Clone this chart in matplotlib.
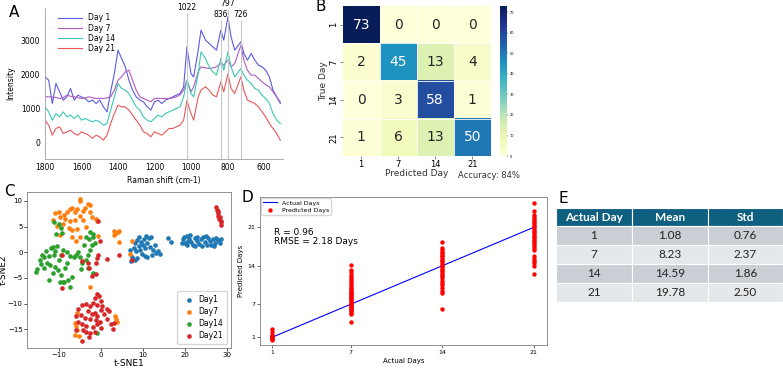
import matplotlib
matplotlib.use('Agg')
import matplotlib.pyplot as plt
import numpy as np

# ---- panel A: Raman spectra ----
shift = [1800, 1780, 1760, 1740, 1720, 1700, 1680, 1660, 1640, 1620, 1600, 1580, 1560, 1540,
         1520, 1500, 1480, 1460, 1440, 1420, 1400, 1380, 1360, 1340, 1320, 1300, 1280, 1260,
         1240, 1220, 1200, 1180, 1160, 1140, 1120, 1100, 1080, 1060, 1040, 1022, 1000, 985,
         960, 945, 920, 900, 880, 860, 836, 820, 797, 780, 760, 726, 710, 690, 670, 650, 630,
         610, 590, 570, 550, 530, 510]
day1 = [1935, 1836, 1145, 1737, 1490, 1244, 1342, 1590, 1244, 1392, 1340, 1293, 1194, 1244,
        1145, 1244, 1046, 898, 1500, 2033, 2725, 2478, 2231, 1836, 1540, 1342, 1250, 1190,
        1046, 948, 1194, 1244, 1145, 1244, 1293, 1342, 1392, 1440, 1639, 2823, 2033, 1935,
        2725, 3317, 3020, 2922, 2823, 2725, 3317, 3020, 3712, 3120, 2725, 2971, 2626, 2428,
        2626, 2430, 2280, 2231, 2132, 1935, 1540, 1342, 1145]
day7 = [1342, 1342, 1342, 1320, 1293, 1320, 1392, 1360, 1342, 1320, 1293, 1310, 1342, 1320,
        1293, 1300, 1293, 1310, 1342, 1540, 1836, 1935, 2083, 2132, 1836, 1540, 1342, 1293,
        1244, 1194, 1293, 1300, 1293, 1290, 1293, 1310, 1342, 1400, 1540, 1836, 1490, 1639,
        2083, 2231, 2200, 2182, 2200, 2231, 2330, 2280, 2428, 2231, 2330, 2873, 2428, 2132,
        1984, 1984, 1885, 1787, 1700, 1639, 1490, 1342, 1194]
day14 = [1046, 898, 651, 849, 750, 898, 750, 800, 700, 800, 651, 700, 651, 602,
         651, 602, 503, 553, 948, 1342, 1737, 1589, 1540, 1441, 1244, 1046, 948, 750,
         651, 602, 700, 800, 750, 849, 898, 948, 998, 1046, 1342, 1836, 1441, 1342,
         2033, 2675, 2478, 2231, 2083, 1984, 2478, 2132, 2675, 2231, 1935, 2182, 1984, 1836,
         1737, 1589, 1540, 1392, 1293, 1145, 849, 651, 553]
day21 = [651, 503, 207, 405, 454, 257, 306, 355, 257, 207, 306, 257, 207, 109,
         207, 158, 59, 207, 553, 849, 1096, 1046, 1046, 948, 800, 651, 503, 306,
         257, 158, 306, 257, 207, 306, 405, 405, 454, 503, 651, 1244, 849, 651,
         1342, 1540, 1639, 1540, 1392, 1342, 1787, 1490, 2033, 1589, 1441, 1935, 1540, 1244,
         1194, 1145, 1046, 898, 750, 553, 405, 257, 59]
peaks = [1022, 836, 797, 726]
peak_top = [3820, 3610, 3940, 3610]

# ---- panel B: confusion matrix ----
days = ['1', '7', '14', '21']
conf = [[73, 0, 0, 0],
        [2, 45, 13, 4],
        [0, 3, 58, 1],
        [1, 6, 13, 50]]

# ---- panel C: t-SNE embedding ----
tsne_day1 = [(7.2, -1.8), (7.5, -1.0), (8.0, -1.5), (8.5, -1.2), (7.0, 0.5), (7.8, 0.8), (8.3, 0.3),
             (9.0, 1.2), (9.5, 2.0), (9.2, 0.5), (10.0, 1.5), (10.5, 0.8), (10.2, 2.5), (11.0, 1.8),
             (11.5, 2.8), (12.0, 3.0), (11.8, 1.0), (12.5, 0.5), (12.2, -0.5), (13.0, -0.2),
             (13.5, 0.2), (14.0, -0.3), (10.5, -0.8), (9.8, -0.3), (8.7, 2.3), (9.0, 3.0),
             (11.0, -1.0), (12.8, 1.5), (10.8, 3.2), (8.2, 1.8), (16.0, 2.8), (16.8, 2.0),
             (19.5, 2.5), (19.8, 3.0), (20.0, 1.8), (20.5, 3.2), (20.5, 1.5), (21.0, 2.6),
             (21.5, 2.0), (21.2, 3.3), (22.0, 1.5), (22.3, 2.8), (22.8, 2.2), (23.0, 3.0),
             (23.3, 1.6), (23.8, 2.5), (24.0, 1.2), (24.3, 2.9), (24.8, 2.0), (25.2, 1.5),
             (25.5, 2.8), (26.0, 2.2), (26.3, 1.5), (26.8, 2.6), (27.2, 1.9), (27.5, 2.8),
             (28.0, 2.3), (28.3, 1.8), (28.5, 2.6), (19.3, 1.8), (22.5, 1.2), (25.0, 3.1),
             (27.0, 1.2), (20.8, 2.2)]
tsne_day7 = [(-10.1, 7.8), (-8.9, 7.3), (-8.1, 7.9), (-7.5, 8.4), (-6.9, 8.7), (-6.3, 7.9), (-5.7, 8.4),
             (-5.1, 10.4), (-4.9, 9.9), (-4.3, 8.1), (-3.7, 8.6), (-3.2, 9.4), (-2.7, 7.8), (-2.1, 6.9),
             (-1.3, 6.5), (-1.0, 6.0), (-9.7, 6.8), (-8.5, 6.5), (-7.3, 6.0), (-6.3, 6.3), (-5.6, 4.5),
             (-4.9, 2.9), (-7.7, 4.8), (-6.9, 4.4), (-9.7, 3.4), (-0.6, 3.2), (-2.7, 9.2),
             (-11.0, 7.6), (-11.5, 6.2), (-10.5, 5.2), (-9.0, 5.5), (-3.5, 5.0), (-4.2, 6.2),
             (-5.0, 7.0), (-7.0, 3.0), (-6.0, 2.2), (3.0, 4.2), (3.5, 3.7), (4.0, 4.0), (4.3, 4.2),
             (3.2, 3.4), (4.2, 2.0), (7.0, -0.3), (7.5, 2.2), (-2.7, -6.7), (-5.7, -11.9),
             (-6.3, -13.8), (-5.9, -14.3), (-5.6, -15.1), (-6.1, -16.1), (-5.2, -16.4),
             (3.4, -12.5), (3.8, -13.5), (3.6, -13.0)]
tsne_day14 = [(-11.3, 5.8), (-10.0, 5.5), (-9.6, 4.7), (-10.8, 3.5), (-9.2, 3.8), (-15.3, -3.3),
              (-15.5, -3.8), (-14.5, -1.5), (-14.0, -0.5), (-13.5, -1.0), (-13.0, 0.2), (-12.5, -0.8),
              (-12.0, 0.8), (-11.5, 1.0), (-11.0, 0.3), (-10.5, 1.2), (-11.2, -0.5), (-12.8, -2.0),
              (-12.2, -2.5), (-11.0, -2.8), (-10.0, -1.5), (-9.5, -0.5), (-9.0, 0.5), (-10.2, -3.5),
              (-11.5, -4.0), (-9.5, -4.5), (-8.5, -3.0), (-8.0, -2.0), (-7.5, -0.8), (-7.0, -4.8),
              (-7.8, -5.5), (-8.8, -5.8), (-9.8, -5.8), (-12.5, -5.5), (-9.0, -5.7), (-7.5, -6.8),
              (-6.5, -1.0), (-6.0, -0.5), (-5.5, 0.0), (-5.0, -1.0), (-4.5, -2.0), (-4.8, -3.2),
              (-3.5, -1.5), (-3.0, -0.5), (-2.5, 0.5), (-4.0, 1.5), (-3.5, 3.0), (-2.8, 2.5),
              (-2.2, 1.5), (-1.8, 3.5), (-1.5, 1.8), (-3.0, -3.0), (-2.0, -4.0), (-8.2, 0.0),
              (-13.5, -3.0), (-14.2, -2.2), (-1.0, -15.8), (-2.5, 4.0), (-2.0, 3.0)]
tsne_day21 = [(27.5, 8.8), (27.7, 8.3), (27.8, 7.6), (28.0, 7.0), (28.2, 6.4), (28.5, 5.8), (28.6, 5.3),
              (27.9, 8.0), (28.3, 6.8), (28.7, 6.0), (-1.0, -8.2), (-0.5, -8.6), (-1.5, -9.0),
              (0.0, -9.5), (-2.0, -9.8), (-1.0, -10.3), (0.2, -10.5), (-2.5, -10.5), (-3.5, -10.0),
              (-4.5, -10.2), (-3.0, -11.5), (-1.5, -11.8), (0.0, -11.3), (0.8, -12.0), (1.5, -11.0),
              (2.0, -11.5), (-5.5, -11.0), (-6.0, -12.5), (-4.8, -12.3), (-3.8, -12.8), (-2.5, -13.0),
              (-1.2, -13.2), (-0.2, -13.5), (1.5, -13.0), (2.5, -14.0), (2.8, -15.0), (3.0, -13.8),
              (-5.5, -13.5), (-4.5, -14.0), (-3.5, -14.3), (-2.0, -14.5), (-1.0, -14.0), (0.0, -14.8),
              (-6.0, -15.2), (-4.3, -15.2), (-3.5, -15.5), (-2.5, -15.8), (-1.5, -15.5), (-4.5, -17.3),
              (-2.8, -16.5), (-1.0, -12.5), (-2.2, -12.0), (-9.3, -0.5), (-4.5, -1.7), (-3.2, -2.1),
              (-1.0, -1.2), (-0.6, -0.5), (-0.2, 2.1), (-0.6, 6.1), (1.4, -1.3), (4.2, -0.6),
              (7.4, -1.6), (-2.1, -4.7), (-1.3, -4.3), (-9.3, -6.9), (-2.9, -3.0), (-1.1, -2.1)]

# ---- panel D: predicted vs actual ----
actual = [1, 7, 14, 21]
pred_1 = [2.6, 2.0, 1.5, 1.3, 1.1, 1.0, 0.9, 0.8, 0.7, 0.5]
pred_7 = [14.1, 13.2, 12.8, 12.4, 12.0, 11.6, 11.2, 10.8, 10.5, 10.2, 10.0, 9.8, 9.5, 9.3, 9.1, 8.9,
          8.7, 8.5, 8.3, 8.1, 7.9, 7.7, 7.5, 7.3, 7.1, 6.9, 6.7, 6.5, 6.3, 6.1, 5.9, 5.7, 5.4, 5.2, 3.7]
pred_14 = [18.4, 17.2, 16.9, 16.6, 16.3, 16.0, 15.7, 15.4, 15.1, 14.8, 14.5, 14.2, 13.9, 13.6, 13.3,
           13.0, 12.7, 12.4, 12.1, 11.7, 11.3, 10.9, 10.5, 10.0, 9.5, 9.0, 6.1]
pred_21 = [25.5, 24.0, 23.2, 22.8, 22.5, 22.2, 21.9, 21.6, 21.3, 21.0, 20.7, 20.4, 20.1, 19.8, 19.5,
           19.2, 18.9, 18.6, 18.3, 18.0, 17.6, 17.2, 16.9, 15.7, 15.3, 14.9, 14.5, 14.0, 12.5]

# ---- panel E: table ----
tab_header = ['Actual Day', 'Mean', 'Std']
tab_rows = [['1', '1.08', '0.76'],
            ['7', '8.23', '2.37'],
            ['14', '14.59', '1.86'],
            ['21', '19.78', '2.50']]

fig = plt.figure(figsize=(7.83, 3.69), dpi=100)
grey = '#808080'

# A
ax = fig.add_axes([0.0575, 0.569, 0.304, 0.409])
ax.plot(shift, day1, color='#5a5ae0', lw=0.8, label='Day 1')
ax.plot(shift, day7, color='#b05cc0', lw=0.8, label='Day 7')
ax.plot(shift, day14, color='#3cc8b4', lw=0.8, label='Day 14')
ax.plot(shift, day21, color='#e85858', lw=0.8, label='Day 21')
ax.vlines(peaks, -500, peak_top, color='#c8c8c8', lw=0.8)
for p, t in zip(peaks, peak_top):
    ax.text(p, t + 40, str(p), fontsize=5.5, ha='center', va='bottom', clip_on=False)
ax.set_xlim(1800, 495)
ax.set_ylim(-500, 3970)
ax.set_xticks([1800, 1600, 1400, 1200, 1000, 800, 600])
ax.set_yticks([0, 1000, 2000, 3000])
ax.tick_params(labelsize=5.5, length=0)
ax.tick_params(axis='y', pad=3.5)
ax.tick_params(axis='x', pad=3)
for s in ['top', 'right']:
    ax.spines[s].set_visible(False)
for s in ['left', 'bottom']:
    ax.spines[s].set_color('#a0a0a0')
    ax.spines[s].set_linewidth(0.6)
ax.set_xlabel('Raman shift (cm-1)', fontsize=5.5, labelpad=3)
ax.set_ylabel('Intensity', fontsize=5.5, labelpad=4)
ax.legend(loc='upper left', bbox_to_anchor=(0.03, 1.0), frameon=False, fontsize=5.5,
          handlelength=3.2, labelspacing=0.15, borderpad=0.2)
fig.text(0.011, 0.965, 'A', fontsize=11, va='center')

# B
axb = fig.add_axes([0.4377, 0.577, 0.189, 0.407])
cm = np.array(conf)
im = axb.imshow(cm, cmap='YlGnBu', vmin=0, vmax=73, aspect='auto')
for i in range(4):
    for j in range(4):
        v = cm[i, j]
        axb.text(j, i, str(v), ha='center', va='center', fontsize=10,
                 color='white' if v > 40 else '#262626')
axb.set_xticks(np.arange(4) + 0.5, minor=True)
axb.set_yticks(np.arange(4) + 0.5, minor=True)
axb.grid(which='minor', color='white', lw=0.6)
axb.tick_params(which='minor', length=0)
axb.set_xticks(range(4))
axb.set_xticklabels(days)
axb.set_yticks(range(4))
axb.set_yticklabels(days, rotation=90, va='center')
axb.tick_params(labelsize=6, length=2, width=0.5, color='#555555', pad=1)
for s in axb.spines.values():
    s.set_visible(False)
axb.set_xlabel('Predicted Day', fontsize=6.5, labelpad=0, color='#333333')
axb.set_ylabel('True Day', fontsize=6.5, labelpad=1, color='#333333')
cax = fig.add_axes([0.6386, 0.577, 0.0089, 0.407])
cb = fig.colorbar(im, cax=cax, ticks=[0, 10, 20, 30, 40, 50, 60, 70])
cb.outline.set_visible(False)
cax.tick_params(labelsize=2.5, length=1, width=0.3, pad=1)
fig.text(0.625, 0.524, 'Accuracy: 84%', fontsize=6, ha='center', va='center', color='#333333')
fig.text(0.403, 0.982, 'B', fontsize=11, va='center')

# C
axc = fig.add_axes([0.0341, 0.0577, 0.261, 0.4228])
for pts, lab, col in [(tsne_day1, 'Day1', '#1f77b4'), (tsne_day7, 'Day7', '#ff7f0e'),
                      (tsne_day14, 'Day14', '#2ca02c'), (tsne_day21, 'Day21', '#d62728')]:
    a = np.array(pts)
    axc.scatter(a[:, 0], a[:, 1], s=11, color=col, label=lab, linewidths=0)
axc.set_xlim(-17.7, 31)
axc.set_ylim(-18.6, 11.8)
axc.set_xticks([-10, 0, 10, 20, 30])
axc.set_yticks([-15, -10, -5, 0, 5, 10])
axc.tick_params(labelsize=5, length=2, width=0.5, pad=1)
for s in axc.spines.values():
    s.set_color(grey)
    s.set_linewidth(0.6)
axc.set_xlabel('t-SNE1', fontsize=6.5, labelpad=0.5)
axc.set_ylabel('t-SNE2', fontsize=6.5, labelpad=0)
axc.legend(loc='lower right', fontsize=5.5, markerscale=1, handletextpad=0.3,
           labelspacing=0.4, borderpad=0.5)
fig.text(0.005, 0.48, 'C', fontsize=11, va='center')

# D
axd = fig.add_axes([0.332, 0.065, 0.3665, 0.401])
axd.plot(actual, actual, color='blue', lw=0.8, label='Actual Days')
preds = [pred_1, pred_7, pred_14, pred_21]
xs = np.concatenate([[d] * len(p) for d, p in zip(actual, preds)])
ys = np.concatenate(preds)
axd.scatter(xs, ys, s=10, color='red', label='Predicted Days', zorder=3, linewidths=0)
axd.set_xlim(0.08, 22)
axd.set_ylim(-0.4, 26.5)
axd.set_xticks(actual)
axd.set_yticks(actual)
axd.tick_params(labelsize=4.5, length=2, width=0.4, pad=1.5)
for s in axd.spines.values():
    s.set_color(grey)
    s.set_linewidth(0.6)
axd.set_xlabel('Actual Days', fontsize=5, labelpad=2)
axd.set_ylabel('Predicted Days', fontsize=5, labelpad=2)
axd.text(1.15, 20.1, 'R = 0.96', fontsize=6.5, va='center')
axd.text(1.15, 18.5, 'RMSE = 2.18 Days', fontsize=6.5, va='center')
axd.legend(loc='upper left', fontsize=4.5, borderpad=0.3, labelspacing=0.3,
           handlelength=2.2, borderaxespad=0.2)
fig.text(0.309, 0.465, 'D', fontsize=11, va='center')

# E
axe = fig.add_axes([0.710, 0.1824, 0.29, 0.2531])
axe.set_xlim(0, 227)
axe.set_ylim(93.4, 0)
axe.axis('off')
col_x = [0, 76, 152, 227]
row_y = [0, 17.7, 37, 56, 75, 93.4]
row_col = ['#0f5f80', '#c9cfd5', '#e4e8eb', '#c9cfd5', '#e4e8eb']
cells = [tab_header] + tab_rows
for r in range(5):
    for c in range(3):
        axe.add_patch(plt.Rectangle((col_x[c], row_y[r]), col_x[c + 1] - col_x[c],
                                    row_y[r + 1] - row_y[r], facecolor=row_col[r],
                                    edgecolor='white', lw=0.8))
        xc = (col_x[c] + col_x[c + 1]) / 2
        yc = (row_y[r] + row_y[r + 1]) / 2
        if r == 0:
            axe.text(xc, yc, cells[r][c], ha='center', va='center', fontsize=8.5,
                     fontweight='bold', color='white', family='Lato')
        else:
            axe.text(xc, yc, cells[r][c], ha='center', va='center', fontsize=8.5,
                     color='#222222', family='Lato')
fig.text(0.713, 0.462, 'E', fontsize=11, va='center')

fig.savefig('out.png', dpi=100)
